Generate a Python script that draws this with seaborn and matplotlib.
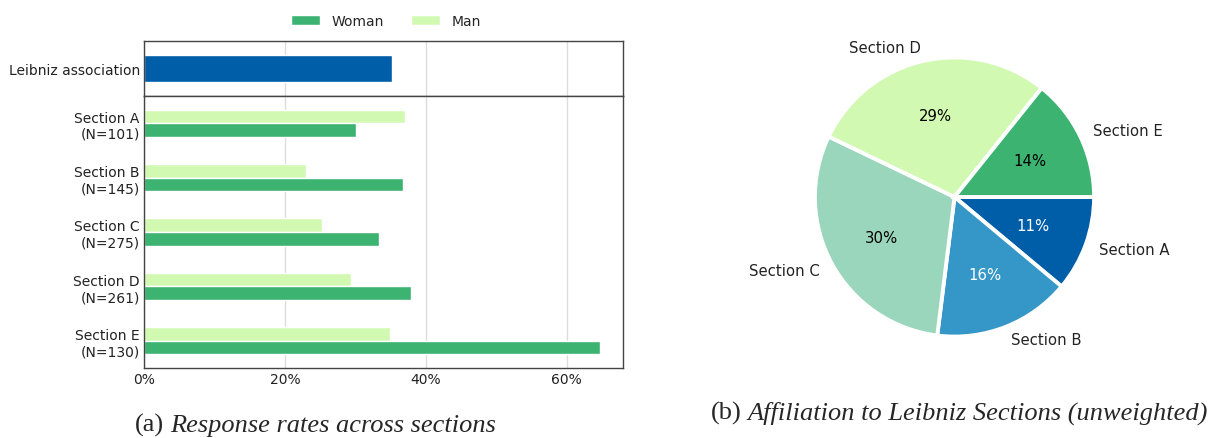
import pandas as pd
import numpy as np
import seaborn as sns
import matplotlib.pyplot as plt

# data
sections = ["Section A", "Section B", "Section C", "Section D", "Section E"]
section_n = [101, 145, 275, 261, 130]
woman_rate = [30.1, 36.8, 33.4, 37.9, 64.7]
man_rate = [37.0, 23.0, 25.3, 29.4, 34.9]
leibniz_rate = [35.2]

green = "#3cb371"
light = "#d2f9b2"
dark_blue = "#005ea8"
pie_colors = ["#005ea8", "#3497c7", "#99d6bb", "#d2f9b2", "#3cb371"]

sns.set_style("white")
plt.rcParams["font.family"] = ["DejaVu Sans"]

labels = [f"{s}\n(N={n})" for s, n in zip(sections, section_n)]
df = pd.DataFrame({
    "label": labels * 2,
    "rate": man_rate + woman_rate,
    "gender": ["Man"] * 5 + ["Woman"] * 5,
})
top = pd.DataFrame({"label": ["Leibniz association"], "rate": leibniz_rate})

fig = plt.figure(figsize=(12.15, 4.39), dpi=100)
ax_top = fig.add_axes([0.1185, 0.779, 0.3942, 0.1253])
ax_bot = fig.add_axes([0.1185, 0.1595, 0.3942, 0.6196])

sns.barplot(data=top, x="rate", y="label", color=dark_blue, width=0.5,
            saturation=1, ax=ax_top)
sns.barplot(data=df, x="rate", y="label", hue="gender", hue_order=["Man", "Woman"],
            palette={"Man": light, "Woman": green}, width=0.5, saturation=1,
            ax=ax_bot)

for ax in (ax_top, ax_bot):
    ax.set_xlim(0, 68)
    ax.set_xticks([0, 20, 40, 60])
    ax.xaxis.grid(True, color="#dddddd", linewidth=1)
    ax.set_axisbelow(True)
    ax.set_xlabel("")
    ax.set_ylabel("")
    for sp in ax.spines.values():
        sp.set_visible(True)
        sp.set_color("#444444")
        sp.set_linewidth(1)
    ax.tick_params(axis="y", length=0, labelsize=10, colors="#222222", pad=3)

ax_top.set_xticklabels([])
ax_top.tick_params(axis="x", length=0)
ax_bot.set_xticklabels(["0%", "20%", "40%", "60%"])
ax_bot.tick_params(axis="x", length=0, labelsize=10, colors="#222222", pad=3)
for t in ax_bot.get_yticklabels():
    t.set_horizontalalignment("right")
    t.set_multialignment("right")

handles, leg_labels = ax_bot.get_legend_handles_labels()
ax_bot.legend_.remove()
order = [leg_labels.index("Woman"), leg_labels.index("Man")]
fig.legend([handles[i] for i in order], [leg_labels[i] for i in order],
           loc="center", bbox_to_anchor=(386 / 1215, 1 - 22 / 439), ncol=2,
           frameon=False, fontsize=10, handlelength=2.1, handleheight=0.8,
           columnspacing=1.95, handletextpad=0.8)

# pie
ax_pie = fig.add_axes([0.642, 0.1515, 0.2872, 0.795])
wedges, texts, autotexts = ax_pie.pie(
    section_n, labels=sections, colors=pie_colors, startangle=0,
    counterclock=False, autopct="%1.0f%%", pctdistance=0.6, labeldistance=1.1,
    wedgeprops={"edgecolor": "white", "linewidth": 2.8},
    textprops={"fontsize": 10.7, "color": "#222222"})
for i, t in enumerate(autotexts):
    t.set_color("white" if i < 2 else "black")
    t.set_fontsize(10.7)
ax_pie.set_aspect("equal")

# captions
cap_font = ["Liberation Serif", "DejaVu Serif"]
ta = fig.text(135 / 1215, 1 - 425 / 439, "(a)", family=cap_font, fontsize=19,
              va="center", ha="left")
ax_bot.annotate("Response rates across sections", xy=(1, 0), xycoords=ta,
                xytext=(4, 0), textcoords="offset points", family=cap_font,
                style="italic", fontsize=19, va="bottom", ha="left",
                annotation_clip=False)
tb = fig.text(711 / 1215, 1 - 413 / 439, "(b)", family=cap_font, fontsize=19,
              va="center", ha="left")
ax_pie.annotate("Affiliation to Leibniz Sections (unweighted)", xy=(1, 0),
                xycoords=tb, xytext=(4, 0), textcoords="offset points",
                family=cap_font, style="italic", fontsize=19, va="bottom",
                ha="left", annotation_clip=False)

fig.savefig("out.png", dpi=100)
